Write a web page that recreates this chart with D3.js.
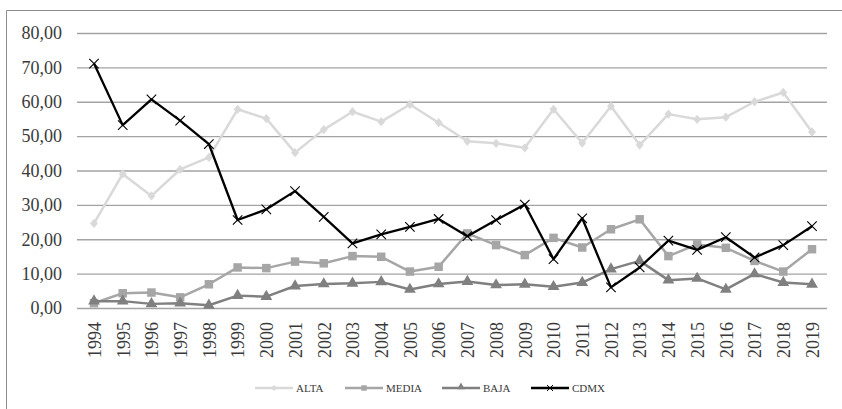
<!DOCTYPE html>
<html>
<head>
<meta charset="utf-8">
<script src="https://cdn.jsdelivr.net/npm/d3@7"></script>
<style>
  body { margin: 0; background: #fff; }
  svg { display: block; }
</style>
</head>
<body>
<script>
var years = ["1994","1995","1996","1997","1998","1999","2000","2001","2002","2003","2004","2005","2006",
             "2007","2008","2009","2010","2011","2012","2013","2014","2015","2016","2017","2018","2019"];
var alta  = [24.6,39.0,32.6,40.3,43.8,57.8,55.1,45.2,51.9,57.1,54.2,59.2,53.9,48.5,47.9,46.6,57.8,48.0,58.7,47.4,56.4,54.9,55.5,60.0,62.7,51.2];
var media = [1.4,4.3,4.5,3.1,6.9,11.8,11.6,13.5,13.0,15.1,14.9,10.6,12.0,21.7,18.3,15.4,20.4,17.6,22.9,25.8,15.1,18.5,17.5,13.7,10.6,17.1];
var baja  = [2.0,2.0,1.2,1.4,0.8,3.6,3.3,6.4,7.0,7.2,7.6,5.4,7.0,7.7,6.7,6.9,6.2,7.4,11.3,13.7,8.1,8.6,5.4,9.9,7.4,6.9];
var cdmx  = [71.1,53.2,60.7,54.5,47.7,25.6,28.7,34.0,26.5,18.8,21.4,23.6,25.9,20.9,25.6,30.1,14.2,26.1,6.0,11.8,19.6,16.9,20.6,14.7,18.3,23.8];
var yTicks = [0,10,20,30,40,50,60,70,80];
var seriesNames = ["ALTA","MEDIA","BAJA","CDMX"];

var W = 842, H = 409;
var gridLeft = 77, gridRight = 827;

var svg = d3.select('body').append('svg')
    .attr('width', W).attr('height', H);

// chart frame (only top and left edges visible)
svg.append('path')
   .attr('d', 'M6.5,409 V10.5 H842')
   .attr('fill', 'none')
   .attr('stroke', '#8c8c8c')
   .attr('stroke-width', 1);

var x = d3.scalePoint().domain(years).range([94, 812]);
var y = d3.scaleLinear().domain([0, 80]).range([308, 33]);

var loc = d3.formatLocale({decimal: ",", thousands: ".", grouping: [3], currency: ["", ""]});
var fmt = loc.format(".2f");

var yAxis = d3.axisLeft(y)
    .tickValues(yTicks)
    .tickSize(-(gridRight - gridLeft))
    .tickPadding(15)
    .tickFormat(fmt);

var gy = svg.append('g')
   .attr('transform', 'translate(' + gridLeft + ',0)')
   .call(yAxis);
gy.select('.domain').remove();
gy.selectAll('line').attr('stroke', '#a3a3a3').attr('stroke-width', 1.3);
gy.selectAll('text')
  .attr('font-family', '"Liberation Serif", "Times New Roman", serif')
  .attr('font-size', '18px')
  .attr('fill', '#3a3a3a');

var xAxis = d3.axisBottom(x).tickSize(0).tickPadding(0);
var gx = svg.append('g')
   .attr('transform', 'translate(0,' + y(0) + ')')
   .call(xAxis);
gx.select('.domain').remove();
gx.selectAll('text')
  .attr('font-family', '"Liberation Serif", "Times New Roman", serif')
  .attr('font-size', '18px')
  .attr('fill', '#3a3a3a')
  .attr('text-anchor', 'end')
  .attr('transform', 'translate(0,14) rotate(-90)')
  .attr('x', 0)
  .attr('y', 0)
  .attr('dy', '0.35em');

var colors = {ALTA: '#d9d9d9', MEDIA: '#a6a6a6', BAJA: '#808080', CDMX: '#000000'};
var allData = {ALTA: alta, MEDIA: media, BAJA: baja, CDMX: cdmx};

var line = d3.line()
    .x(function(d, i){ return x(years[i]); })
    .y(function(d){ return y(d); });

function marker(g, name, cx, cy) {
  var c = colors[name];
  if (name === 'ALTA') {
    g.append('path')
     .attr('d', d3.symbol().type(d3.symbolDiamond2).size(55)())
     .attr('transform', 'translate(' + cx + ',' + cy + ') scale(0.85,1)')
     .attr('fill', c);
  } else if (name === 'MEDIA') {
    g.append('path')
     .attr('d', d3.symbol().type(d3.symbolSquare).size(72)())
     .attr('transform', 'translate(' + cx + ',' + cy + ')')
     .attr('fill', c);
  } else if (name === 'BAJA') {
    g.append('path')
     .attr('d', d3.symbol().type(d3.symbolTriangle).size(60)())
     .attr('transform', 'translate(' + cx + ',' + cy + ')')
     .attr('fill', c);
  } else {
    g.append('path')
     .attr('d', d3.symbol().type(d3.symbolTimes).size(60)())
     .attr('transform', 'translate(' + cx + ',' + cy + ')')
     .attr('fill', 'none')
     .attr('stroke', c)
     .attr('stroke-width', 1.1);
  }
}

seriesNames.forEach(function(name){
  var vals = allData[name];
  var g = svg.append('g');
  g.append('path')
   .datum(vals)
   .attr('d', line)
   .attr('fill', 'none')
   .attr('stroke', colors[name])
   .attr('stroke-width', name === 'CDMX' ? 2.3 : 2.5)
   .attr('stroke-linejoin', 'round');
  vals.forEach(function(v, i){
    marker(g, name, x(years[i]), y(v));
  });
});

// legend
var legendX = [255, 345, 442, 531];
var legendY = 388;
seriesNames.forEach(function(name, i){
  var g = svg.append('g');
  var lx = legendX[i];
  g.append('line')
   .attr('x1', lx).attr('x2', lx + 38)
   .attr('y1', legendY).attr('y2', legendY)
   .attr('stroke', colors[name])
   .attr('stroke-width', 2.3);
  var lg = g.append('g');
  if (name === 'ALTA') {
    lg.append('path').attr('d', d3.symbol().type(d3.symbolDiamond2).size(22)())
      .attr('transform', 'translate(' + (lx + 19) + ',' + legendY + ')').attr('fill', colors[name]);
  } else if (name === 'MEDIA') {
    lg.append('path').attr('d', d3.symbol().type(d3.symbolSquare).size(30)())
      .attr('transform', 'translate(' + (lx + 19) + ',' + legendY + ')').attr('fill', colors[name]);
  } else if (name === 'BAJA') {
    lg.append('path').attr('d', d3.symbol().type(d3.symbolTriangle).size(25)())
      .attr('transform', 'translate(' + (lx + 19) + ',' + (legendY - 1) + ')').attr('fill', colors[name]);
  } else {
    lg.append('path').attr('d', d3.symbol().type(d3.symbolTimes).size(25)())
      .attr('transform', 'translate(' + (lx + 19) + ',' + legendY + ')')
      .attr('fill', 'none').attr('stroke', '#000').attr('stroke-width', 1);
  }
  g.append('text')
   .attr('x', lx + 41)
   .attr('y', legendY)
   .attr('dy', '0.35em')
   .attr('font-family', '"Liberation Serif", "Times New Roman", serif')
   .attr('font-size', '11px')
   .attr('fill', '#3a3a3a')
   .text(name);
});
</script>
</body>
</html>
